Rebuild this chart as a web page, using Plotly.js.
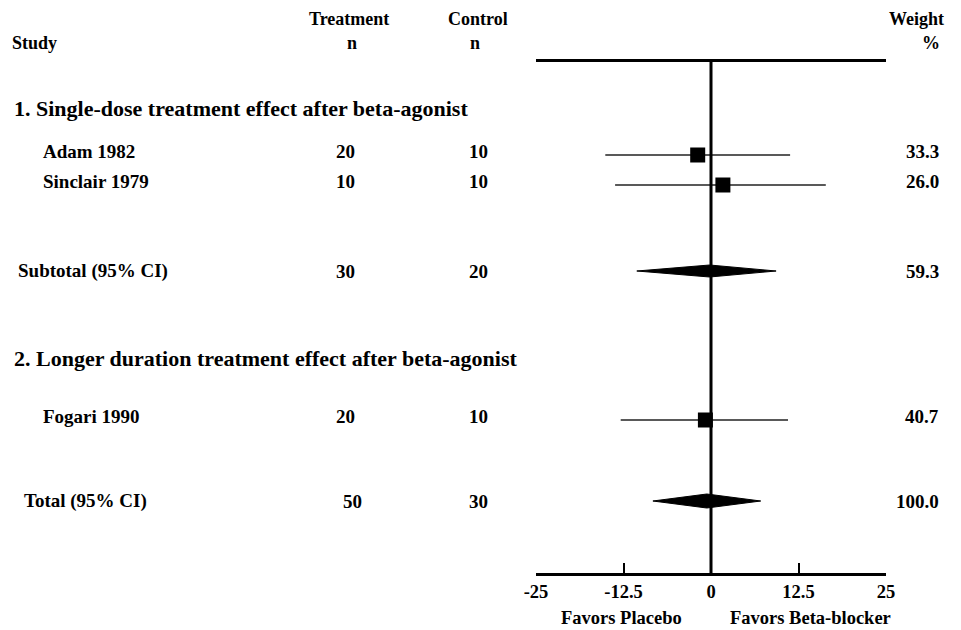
<!DOCTYPE html>
<html>
<head>
<meta charset="utf-8">
<script src="https://cdn.plot.ly/plotly-3.0.1.min.js"></script>
<style>
html,body{margin:0;padding:0;background:#fff;}
#chart{width:961px;height:630px;}
</style>
</head>
<body>
<div id="chart"></div>
<script>
// ---- data ----
const studies = ["Adam 1982", "Sinclair 1979", "Fogari 1990"];
const studyTreatN = ["20", "10", "20"];
const studyControlN = ["10", "10", "10"];
const studyEffect = [-1.9, 1.7, -0.8];
const studyLower = [-15.1, -13.7, -12.9];
const studyUpper = [11.3, 16.4, 11.0];
const studyWeight = ["33.3", "26.0", "40.7"];

const pooled = ["Subtotal (95% CI)", "Total (95% CI)"];
const pooledTreatN = ["30", "50"];
const pooledControlN = ["20", "30"];
const pooledEffect = [-0.2, -0.6];
const pooledLower = [-10.6, -8.3];
const pooledUpper = [9.3, 7.1];
const pooledWeight = ["59.3", "100.0"];

const sections = ["1. Single-dose treatment effect after beta-agonist",
                  "2. Longer duration treatment effect after beta-agonist"];
const tickVals = [-25, -12.5, 0, 12.5, 25];
const tickText = ["-25", "-12.5", "0", "12.5", "25"];
const favorsLeft = "Favors Placebo";
const favorsRight = "Favors Beta-blocker";

// ---- layout (row positions on a y axis scaled in page pixels) ----
const studyRowY = [155, 185, 420];
const pooledRowY = [271, 501];
const sectionRowY = [108, 358];
const diamondHalf = [6, 7];

const L = 536, R = 886, T = 62, B = 573;
const px = p => (p - L) / (R - L);
const py = p => (B - p) / (B - T);
const FONT = "Liberation Serif, Times New Roman, serif";
const fnt = (s) => ({family: FONT, size: s || 18, color: "#000"});

const traces = [];
// CI lines
for (let i = 0; i < studies.length; i++) {
  traces.push({
    x: [studyLower[i], studyUpper[i]], y: [studyRowY[i], studyRowY[i]],
    mode: "lines", line: {color: "#222", width: 1.3}, hoverinfo: "skip", showlegend: false
  });
}
// squares
traces.push({
  x: studyEffect, y: studyRowY, mode: "markers",
  marker: {symbol: "square", size: 15, color: "#000"}, showlegend: false, hoverinfo: "x"
});
// diamonds
for (let i = 0; i < pooled.length; i++) {
  const y = pooledRowY[i], h = diamondHalf[i];
  traces.push({
    x: [pooledLower[i], pooledEffect[i], pooledUpper[i], pooledEffect[i], pooledLower[i]],
    y: [y, y - h, y, y + h, y],
    mode: "lines", fill: "toself", fillcolor: "#000", line: {color: "#000", width: 1},
    showlegend: false, hoverinfo: "skip"
  });
}

const ann = [];
function addText(text, xpix, ypix, anchor, size) {
  ann.push({text: "<b>" + text + "</b>", xref: "paper", yref: "paper", x: px(xpix), y: py(ypix),
    xanchor: anchor, yanchor: "middle", showarrow: false, font: fnt(size)});
}
// headers
addText("Study", 10, 43, "left", 18);
addText("Treatment", 349, 19, "center", 18);
addText("n", 352, 43, "center", 18);
addText("Control", 478, 19, "center", 18);
addText("n", 475, 43, "center", 18);
addText("Weight", 946, 19, "right", 18);
addText("%", 931, 43, "center", 18);
// sections
for (let i = 0; i < sections.length; i++) addText(sections[i], 12, sectionRowY[i], "left", 22);
// studies
for (let i = 0; i < studies.length; i++) {
  const y = studyRowY[i] - 3.5;
  addText(studies[i], 41, y, "left", 19);
  addText(studyTreatN[i], 345, y, "center", 19);
  addText(studyControlN[i], 478, y, "center", 19);
  addText(studyWeight[i], 941, y, "right", 19);
}
const pooledX = [16, 22];
const pooledTX = [345, 352];
for (let i = 0; i < pooled.length; i++) {
  const y = pooledRowY[i];
  addText(pooled[i], pooledX[i], y, "left", 19);
  addText(pooledTreatN[i], pooledTX[i], y, "center", 19);
  addText(pooledControlN[i], 478, y, "center", 19);
  addText(pooledWeight[i], 941, y, "right", 19);
}
addText(favorsLeft, 621, 618, "center", 18.5);
addText(favorsRight, 810, 618, "center", 18.5);

const layout = {
  width: 961, height: 630,
  margin: {l: L, r: 961 - R, t: T, b: 630 - B, pad: 0},
  paper_bgcolor: "#fff", plot_bgcolor: "#fff",
  showlegend: false,
  xaxis: {
    range: [-25, 25], tickvals: tickVals, ticktext: tickText,
    ticks: "inside", ticklen: 10, tickwidth: 2, tickcolor: "#000",
    showline: true, linewidth: 3, linecolor: "#000", mirror: true,
    showgrid: false, zeroline: false,
    tickfont: {family: FONT, size: 18.5, color: "#000", weight: "bold"},
    fixedrange: true
  },
  yaxis: {
    range: [B, T], showgrid: false, zeroline: false, showline: false,
    showticklabels: false, ticks: "", fixedrange: true
  },
  shapes: [
    {type: "line", xref: "x", yref: "paper", x0: 0, x1: 0, y0: 0, y1: 1,
     line: {color: "#000", width: 3}}
  ],
  annotations: ann
};

Plotly.newPlot("chart", traces, layout, {displayModeBar: false, staticPlot: true});
</script>
</body>
</html>
